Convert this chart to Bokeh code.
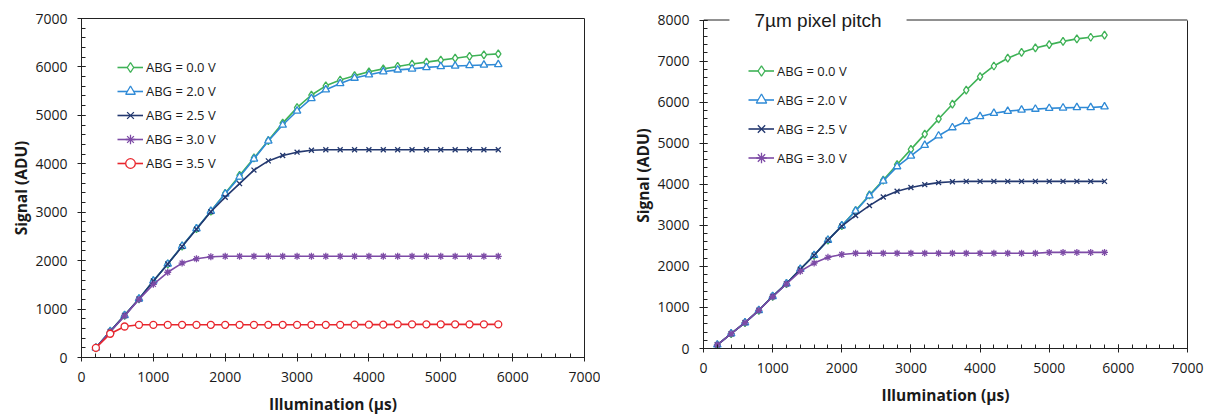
from bokeh.plotting import figure
from bokeh.models import (Legend, LegendItem, SingleIntervalTicker, LinearAxis,
                          FixedTicker, Label, Range1d, Span)
from bokeh.embed import file_html
from bokeh.resources import INLINE

# Illumination time (µs)
illum = [200, 400, 600, 800, 1000, 1200, 1400, 1600, 1800, 2000,
         2200, 2400, 2600, 2800, 3000, 3200, 3400, 3600, 3800, 4000,
         4200, 4400, 4600, 4800, 5000, 5200, 5400, 5600, 5800]

# Left panel: signal (ADU) per anti-blooming gate voltage
left_abg00 = [200, 540, 870, 1210, 1580, 1930, 2300, 2660, 3020, 3390,
              3760, 4120, 4480, 4840, 5160, 5420, 5610, 5730, 5820, 5900,
              5960, 6010, 6060, 6100, 6140, 6180, 6220, 6250, 6270]
left_abg20 = [200, 540, 870, 1210, 1580, 1930, 2300, 2660, 3020, 3380,
              3730, 4100, 4470, 4800, 5090, 5350, 5530, 5660, 5770, 5840,
              5900, 5940, 5960, 5990, 6010, 6020, 6030, 6040, 6050]
left_abg25 = [200, 540, 870, 1210, 1580, 1930, 2290, 2650, 3010, 3310,
              3590, 3870, 4060, 4170, 4240, 4280, 4290, 4290, 4290, 4290,
              4290, 4290, 4290, 4290, 4290, 4290, 4290, 4290, 4290]
left_abg30 = [200, 530, 860, 1200, 1510, 1760, 1950, 2040, 2080, 2090,
              2090, 2090, 2090, 2090, 2090, 2090, 2090, 2090, 2090, 2090,
              2090, 2090, 2090, 2090, 2090, 2090, 2090, 2090, 2090]
left_abg35 = [200, 490, 640, 675, 675, 675, 675, 675, 675, 675,
              675, 675, 675, 675, 675, 675, 675, 675, 678, 678,
              678, 685, 685, 685, 685, 685, 685, 685, 685]

# Right panel: 7 µm pixel pitch
right_abg00 = [90, 360, 630, 930, 1270, 1580, 1930, 2270, 2640, 2990,
               3360, 3740, 4100, 4480, 4850, 5220, 5590, 5950, 6290, 6620,
               6880, 7070, 7210, 7320, 7400, 7480, 7540, 7580, 7630]
right_abg20 = [90, 360, 630, 930, 1270, 1580, 1930, 2270, 2640, 2990,
               3350, 3720, 4080, 4430, 4690, 4950, 5180, 5380, 5530, 5650,
               5730, 5780, 5810, 5830, 5850, 5860, 5870, 5870, 5890]
right_abg25 = [90, 360, 630, 930, 1270, 1580, 1930, 2270, 2640, 2980,
               3240, 3480, 3690, 3830, 3920, 3990, 4040, 4060, 4070, 4070,
               4070, 4070, 4070, 4070, 4070, 4070, 4070, 4070, 4070]
right_abg30 = [90, 360, 630, 930, 1260, 1570, 1880, 2080, 2220, 2290,
               2320, 2320, 2320, 2320, 2320, 2320, 2320, 2320, 2320, 2320,
               2320, 2320, 2320, 2320, 2340, 2340, 2340, 2340, 2340]

series_labels = ["ABG = 0.0 V", "ABG = 2.0 V", "ABG = 2.5 V", "ABG = 3.0 V", "ABG = 3.5 V"]
colors = ["#3fb257", "#2f8ad6", "#23386f", "#7d4ba6", "#e8262d"]
markers = ["diamond", "triangle", "x", "asterisk", "circle"]
marker_sizes = [8, 7.5, 7, 7, 7]

FONT = "Open Sans"
TEXT = "#1a1a1a"
AXIS = "#222222"
FIG_H = 417


def style_axis(ax, label_standoff, title_standoff):
    ax.axis_line_color = AXIS
    ax.major_tick_line_color = AXIS
    ax.minor_tick_line_color = AXIS
    ax.major_tick_in = 4
    ax.major_tick_out = 4
    ax.minor_tick_in = 4
    ax.minor_tick_out = 0
    ax.major_label_text_font = FONT
    ax.major_label_text_font_size = "14px"
    ax.major_label_text_color = TEXT
    ax.major_label_standoff = label_standoff
    ax.axis_label_text_font = FONT
    ax.axis_label_text_font_size = "15.5px"
    ax.axis_label_text_font_style = "bold"
    ax.axis_label_text_color = TEXT
    ax.axis_label_standoff = title_standoff


def make_panel(width, y_range, series, borders, legend_pos, row_h, left_px):
    b_left, b_right, b_top, b_bottom = borders
    p = figure(width=width, height=FIG_H, output_backend="svg", toolbar_location=None,
               title=None, x_range=Range1d(0, 7000), y_range=y_range,
               min_border_left=b_left, min_border_right=b_right,
               min_border_top=b_top, min_border_bottom=b_bottom)
    p.styles = {"position": "absolute", "left": f"{left_px}px", "top": "0px"}
    p.xgrid.visible = False
    p.ygrid.visible = False
    p.background_fill_color = "white"
    p.border_fill_color = "white"

    p.xaxis.ticker = SingleIntervalTicker(interval=1000, num_minor_ticks=5)
    p.yaxis.ticker = SingleIntervalTicker(interval=1000, num_minor_ticks=5)
    p.xaxis.axis_label = "Illumination (\u00b5s)"
    p.yaxis.axis_label = "Signal (ADU)"
    style_axis(p.xaxis[0], 10, 8)
    style_axis(p.yaxis[0], 10, 0)

    items = []
    for i, yv in enumerate(series):
        ln = p.line(illum, yv, line_color=colors[i], line_width=1.6)
        mk = p.scatter(illum, yv, marker=markers[i], size=marker_sizes[i],
                       line_color=colors[i], fill_color="white", line_width=1.3)
        items.append(LegendItem(label=series_labels[i], renderers=[ln, mk]))

    legend = Legend(items=items, location=legend_pos, margin=0, padding=0,
                    spacing=0, glyph_width=26, glyph_height=row_h, label_height=row_h,
                    label_standoff=3, label_text_font=FONT,
                    label_text_font_size="13px", label_text_color=TEXT,
                    label_text_baseline="middle",
                    border_line_color=None, background_fill_alpha=0)
    p.add_layout(legend, "center")
    return p


# Left panel: frame from px 18 to 359, boxed on all sides
left_plot = make_panel(600, Range1d(0, 7000),
                       [left_abg00, left_abg20, left_abg25, left_abg30, left_abg35],
                       (81, 16, 18, 58), (36, 182), 24, 0)
left_plot.outline_line_color = AXIS
left_plot.outline_line_alpha = 1

# Right panel: frame reaches near the top so the title can sit on the box edge;
# y = 0 lands on px 348 (frame bottom) and y = 8000 on px 19.5
r_frame_top, r_zero_px, r_top_px = 2.0, 348.0, 19.5
r_end = 8000 + (r_top_px - r_frame_top) * 8000 / (r_zero_px - r_top_px)
right_plot = make_panel(606, Range1d(0, r_end),
                        [right_abg00, right_abg20, right_abg25, right_abg30],
                        (103, 19, int(r_frame_top), FIG_H - int(r_zero_px)),
                        (45, 176), 29, 600)
right_plot.outline_line_color = None
right_plot.yaxis.bounds = (0, 8000)

right_edge = LinearAxis(ticker=FixedTicker(ticks=[]), bounds=(0, 8000),
                        axis_line_color=AXIS, major_tick_line_color=None,
                        minor_tick_line_color=None, major_label_text_font_size="0px")
right_plot.add_layout(right_edge, "right")
right_plot.add_layout(Span(location=8000, dimension="width", line_color=AXIS, line_width=1))
right_plot.add_layout(Label(x=1656, y=8000, text="7\u00b5m pixel pitch",
                            text_align="center", text_baseline="middle",
                            text_font="Liberation Sans", text_font_size="19px",
                            text_color=TEXT, background_fill_color="white",
                            padding=25))

open("out.html", "w").write(file_html([left_plot, right_plot], INLINE))
